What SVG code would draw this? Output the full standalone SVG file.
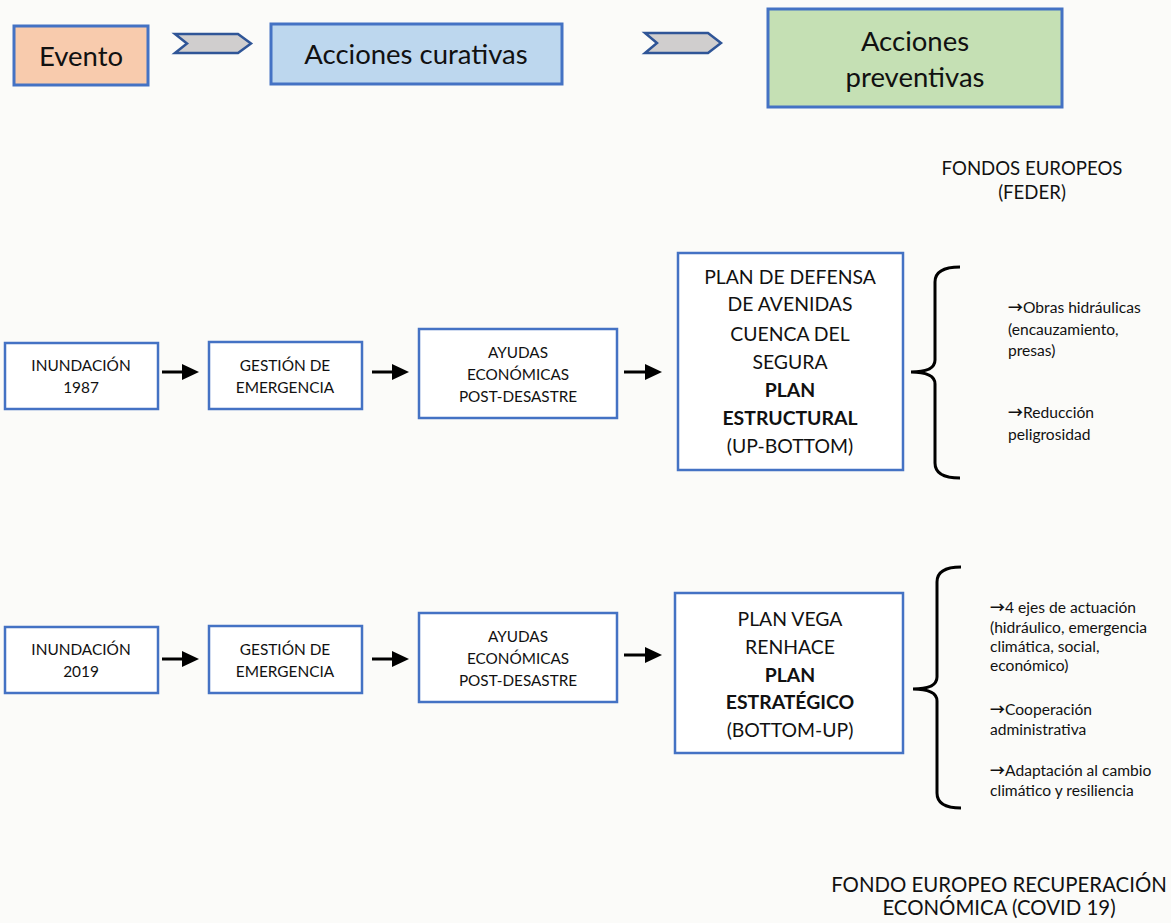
<svg xmlns="http://www.w3.org/2000/svg" width="1171" height="923" viewBox="0 0 1171 923">
  <style>
    text { font-family: Lato, "Liberation Sans", sans-serif; fill: #111; }
    .c { text-anchor: middle; }
    .head { stroke: #4472c4; stroke-width: 3; }
    .orange { fill: #f8cbad; }
    .blue { fill: #bdd7ee; }
    .green { fill: #c5e0b4; }
    .box { fill: #ffffff; stroke: #4472c4; stroke-width: 2.5; }
    .chev { fill: #d0cece; stroke: #2f5597; stroke-width: 2.5; stroke-linejoin: miter; }
    .arrow { stroke: #000; stroke-width: 3; fill: none; }
    .brace { fill: none; stroke: #000; stroke-width: 3; }
    .t24 { font-size: 27.5px; }
    .t14 { font-size: 15.4px; }
    .t13 { font-size: 15.3px; }
    .tn { font-size: 15.6px; }
    .t18 { font-size: 19.4px; }
    .t16 { font-size: 18.6px; }
    .t20 { font-size: 20.4px; }
    .b { font-weight: bold; }
    tspan.ar { font-family: "Noto Sans CJK JP", "DejaVu Sans", sans-serif; font-size: 15px; font-weight: bold; }
  </style>
  <defs>
    <marker id="tri" markerUnits="userSpaceOnUse" markerWidth="17" markerHeight="16" refX="0" refY="8" orient="auto">
      <path d="M0,0 L17,8 L0,16 Z" fill="#000"/>
    </marker>
  </defs>

  <rect width="1171" height="923" fill="#fbfbf9"/>

  <!-- header: stage labels -->
  <g id="evento">
    <rect x="14" y="26" width="134" height="59" class="head orange"/>
    <text x="81" y="66" class="c t24">Evento</text>
  </g>
  <g id="curativas">
    <rect x="271" y="24" width="291" height="60" class="head blue"/>
    <text x="416" y="64" class="c t24">Acciones curativas</text>
  </g>
  <g id="preventivas">
    <rect x="768" y="9" width="294" height="98" class="head green"/>
    <text x="915" y="51" class="c t24">Acciones</text>
    <text x="915" y="87" class="c t24">preventivas</text>
  </g>
  <g id="chevrons">
    <polygon class="chev" points="175,34 238,34 251,43.5 238,53 175,53 187,43.5"/>
    <polygon class="chev" points="645,33 708,33 721,43 708,53 645,53 657,43"/>
  </g>

  <!-- funding labels -->
  <g id="feder">
    <text x="1032" y="175" class="c t16">FONDOS EUROPEOS</text>
    <text x="1032" y="199" class="c t16">(FEDER)</text>
  </g>
  <g id="covid">
    <text x="999" y="892" class="c t20">FONDO EUROPEO RECUPERACIÓN</text>
    <text x="999" y="915" class="c t20">ECONÓMICA (COVID 19)</text>
  </g>

  <!-- 1987 sequence -->
  <g id="inund1987">
    <rect x="5" y="343" width="153" height="66" class="box"/>
    <text x="81" y="371" class="c t14">INUNDACIÓN</text>
    <text x="81" y="393" class="c t14">1987</text>
  </g>
  <g id="gestion1987">
    <rect x="209" y="342" width="153" height="67" class="box"/>
    <text x="285" y="371" class="c t14">GESTIÓN DE</text>
    <text x="285" y="393" class="c t14">EMERGENCIA</text>
  </g>
  <g id="ayudas1987">
    <rect x="419" y="329" width="198" height="89" class="box"/>
    <text x="518" y="358" class="c t13">AYUDAS</text>
    <text x="518" y="380" class="c t13">ECONÓMICAS</text>
    <text x="518" y="402" class="c t13">POST-DESASTRE</text>
  </g>
  <g id="plan1987">
    <rect x="678" y="253" width="225" height="217" class="box"/>
    <text x="790" y="284" class="c t18">PLAN DE DEFENSA</text>
    <text x="790" y="311" class="c t18">DE AVENIDAS</text>
    <text x="790" y="341" class="c t18">CUENCA DEL</text>
    <text x="790" y="369" class="c t18">SEGURA</text>
    <text x="790" y="397" class="c t18 b">PLAN</text>
    <text x="790" y="425" class="c t18 b">ESTRUCTURAL</text>
    <text x="790" y="453" class="c t18">(UP-BOTTOM)</text>
  </g>
  <g id="notas1987">
    <text x="1008" y="313" class="tn"><tspan class="ar">→</tspan>Obras hidráulicas</text>
    <text x="1008" y="335" class="tn">(encauzamiento,</text>
    <text x="1008" y="356" class="tn">presas)</text>
    <text x="1008" y="418" class="tn"><tspan class="ar">→</tspan>Reducción</text>
    <text x="1008" y="440" class="tn">peligrosidad</text>
  </g>

  <!-- 2019 sequence -->
  <g id="inund2019">
    <rect x="5" y="627" width="153" height="66" class="box"/>
    <text x="81" y="655" class="c t14">INUNDACIÓN</text>
    <text x="81" y="677" class="c t14">2019</text>
  </g>
  <g id="gestion2019">
    <rect x="209" y="626" width="153" height="67" class="box"/>
    <text x="285" y="655" class="c t14">GESTIÓN DE</text>
    <text x="285" y="677" class="c t14">EMERGENCIA</text>
  </g>
  <g id="ayudas2019">
    <rect x="419" y="613" width="198" height="89" class="box"/>
    <text x="518" y="642" class="c t13">AYUDAS</text>
    <text x="518" y="664" class="c t13">ECONÓMICAS</text>
    <text x="518" y="686" class="c t13">POST-DESASTRE</text>
  </g>
  <g id="plan2019">
    <rect x="675" y="593" width="228" height="160" class="box"/>
    <text x="790" y="626" class="c t18">PLAN VEGA</text>
    <text x="790" y="654" class="c t18">RENHACE</text>
    <text x="790" y="682" class="c t18 b">PLAN</text>
    <text x="790" y="709" class="c t18 b">ESTRATÉGICO</text>
    <text x="790" y="737" class="c t18">(BOTTOM-UP)</text>
  </g>
  <g id="notas2019">
    <text x="990" y="613" class="tn"><tspan class="ar">→</tspan>4 ejes de actuación</text>
    <text x="990" y="633" class="tn">(hidráulico, emergencia</text>
    <text x="990" y="652" class="tn">climática, social,</text>
    <text x="990" y="671" class="tn">económico)</text>
    <text x="990" y="715" class="tn"><tspan class="ar">→</tspan>Cooperación</text>
    <text x="990" y="735" class="tn">administrativa</text>
    <text x="990" y="776" class="tn"><tspan class="ar">→</tspan>Adaptación al cambio</text>
    <text x="990" y="796" class="tn">climático y resiliencia</text>
  </g>

  <!-- connectors -->
  <g id="connectors">
    <line class="arrow" x1="162" y1="372" x2="182" y2="372" marker-end="url(#tri)"/>
    <line class="arrow" x1="372" y1="372" x2="392" y2="372" marker-end="url(#tri)"/>
    <line class="arrow" x1="624" y1="372" x2="645" y2="372" marker-end="url(#tri)"/>
    <line class="arrow" x1="162" y1="659" x2="182" y2="659" marker-end="url(#tri)"/>
    <line class="arrow" x1="372" y1="659" x2="392" y2="659" marker-end="url(#tri)"/>
    <line class="arrow" x1="624" y1="655" x2="645" y2="655" marker-end="url(#tri)"/>
    <path class="brace" d="M960,267 Q935,267 935,282 L935,360 Q935,372 911,372 Q935,372 935,384 L935,463 Q935,478 960,478"/>
    <path class="brace" d="M961,567 Q937,567 937,582 L937,677 Q937,689 913,689 Q937,689 937,701 L937,793 Q937,808 961,808"/>
  </g>
</svg>
